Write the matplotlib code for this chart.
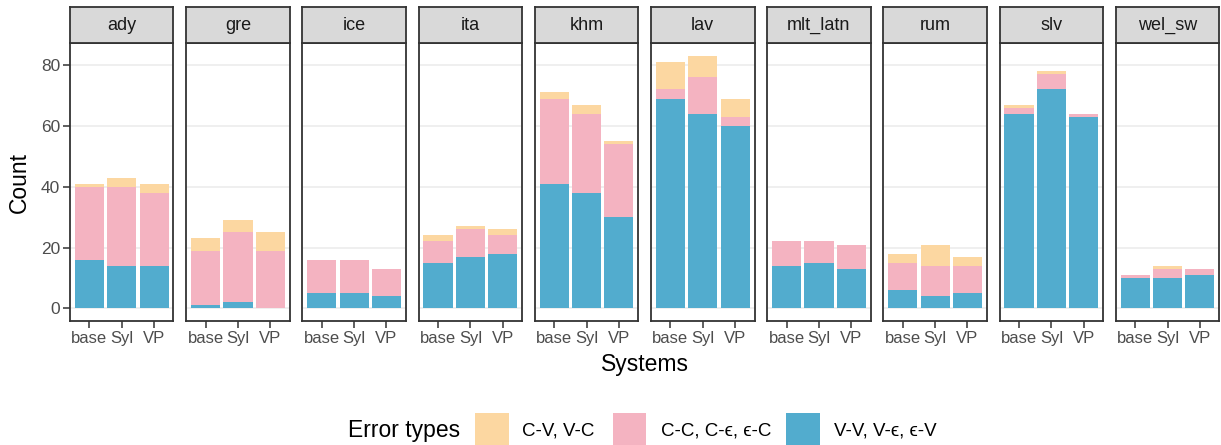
import matplotlib
matplotlib.use("Agg")
import matplotlib.pyplot as plt
from matplotlib.patches import Rectangle
import numpy as np

plt.rcParams['font.family'] = ['Liberation Sans', 'DejaVu Sans']

languages = ["ady", "gre", "ice", "ita", "khm", "lav", "mlt_latn", "rum", "slv", "wel_sw"]
systems = ["base", "Syl", "VP"]
# counts per language, per system (base, Syl, VP)
vv = {  # V-V, V-ε, ε-V
    "ady": [16, 14, 14], "gre": [1, 2, 0], "ice": [5, 5, 4], "ita": [15, 17, 18],
    "khm": [41, 38, 30], "lav": [69, 64, 60], "mlt_latn": [14, 15, 13],
    "rum": [6, 4, 5], "slv": [64, 72, 63], "wel_sw": [10, 10, 11],
}
cc = {  # C-C, C-ε, ε-C
    "ady": [24, 26, 24], "gre": [18, 23, 19], "ice": [11, 11, 9], "ita": [7, 9, 6],
    "khm": [28, 26, 24], "lav": [3, 12, 3], "mlt_latn": [8, 7, 8],
    "rum": [9, 10, 9], "slv": [2, 5, 1], "wel_sw": [1, 3, 2],
}
cv = {  # C-V, V-C
    "ady": [1, 3, 3], "gre": [4, 4, 6], "ice": [0, 0, 0], "ita": [2, 1, 2],
    "khm": [2, 3, 1], "lav": [9, 7, 6], "mlt_latn": [0, 0, 0],
    "rum": [3, 7, 3], "slv": [1, 1, 0], "wel_sw": [0, 1, 0],
}
legend_labels = ["C-V, V-C", "C-C, C-\u03f5, \u03f5-C", "V-V, V-\u03f5, \u03f5-V"]
col_cv = "#FCD7A1"
col_cc = "#F4B3C1"
col_vv = "#52ACCE"

W, H = 1221, 445
fig = plt.figure(figsize=(W / 100, H / 100), dpi=100)

def fx(px):
    return px / W

def fy(py):
    return 1 - py / H

left0 = 70.0
stride = 116.2
pw = 103.5
strip_top, panel_top, panel_bot = 6.7, 43.3, 321.0
edge = "#333333"
ymin, ymax = -4.15, 87.15

for i, lang in enumerate(languages):
    l = left0 + i * stride
    ax = fig.add_axes([fx(l), fy(panel_bot), fx(pw), (panel_bot - panel_top) / H])
    x = np.arange(1, 4)
    b1 = np.array(vv[lang])
    b2 = np.array(cc[lang])
    b3 = np.array(cv[lang])
    ax.bar(x, b1, width=0.9, color=col_vv, linewidth=0, zorder=2)
    ax.bar(x, b2, width=0.9, bottom=b1, color=col_cc, linewidth=0, zorder=2)
    ax.bar(x, b3, width=0.9, bottom=b1 + b2, color=col_cv, linewidth=0, zorder=2)
    ax.set_xlim(0.4, 3.6)
    ax.set_ylim(ymin, ymax)
    ax.set_yticks([0, 20, 40, 60, 80])
    for yv in [0, 20, 40, 60, 80]:
        ax.axhline(yv, color="#EBEBEB", linewidth=1.1, zorder=1)
    ax.set_xticks(x)
    ax.set_xticklabels(systems, fontsize=12, color="#4D4D4D")
    ax.tick_params(axis="x", length=5, width=1.1, color=edge, pad=2.5)
    if i == 0:
        ax.tick_params(axis="y", length=5, width=1.1, color=edge, labelsize=12.5,
                       labelcolor="#4D4D4D", pad=2)
    else:
        ax.tick_params(axis="y", left=False, labelleft=False)
    for s in ax.spines.values():
        s.set_color(edge)
        s.set_linewidth(1.3)
    # strip
    sax = fig.add_axes([fx(l), fy(panel_top), fx(pw), (panel_top - strip_top) / H])
    sax.set_facecolor("#D9D9D9")
    sax.set_xticks([])
    sax.set_yticks([])
    for s in sax.spines.values():
        s.set_color(edge)
        s.set_linewidth(1.3)
    sax.text(0.5, 0.5, lang, ha="center", va="center", fontsize=13, color="#1A1A1A",
             transform=sax.transAxes)

fig.text(fx(19), fy(182), "Count", rotation=90, ha="center", va="center", fontsize=16.5)
fig.text(fx(645), fy(364), "Systems", ha="center", va="center", fontsize=16.5)

# legend
ty = fy(431)
fig.text(fx(348), ty, "Error types", ha="left", va="center", fontsize=16.5)
keys = [(475, col_cv, 522), (612.5, col_cc, 661), (786, col_vv, 833.5)]
for (kx, c, lx), lab in zip(keys, legend_labels):
    fig.patches.append(Rectangle((fx(kx), fy(446)), fx(33.5), (446 - 413) / H,
                                 transform=fig.transFigure, facecolor=c, edgecolor="none"))
    fig.text(fx(lx), ty, lab, ha="left", va="center", fontsize=13.5)

fig.savefig("out.png", dpi=100)
